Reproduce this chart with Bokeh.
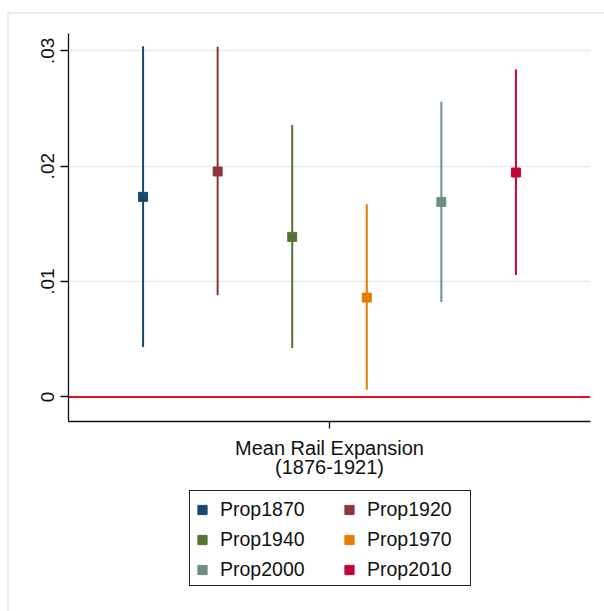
from bokeh.plotting import figure
from bokeh.layouts import column
from bokeh.models import (ColumnDataSource, Range1d, FixedTicker, CustomJSTickFormatter,
                          Span, Legend, LegendItem)
from bokeh.embed import file_html
from bokeh.resources import INLINE

# ---- data ----
series = ["Prop1870", "Prop1920", "Prop1940", "Prop1970", "Prop2000", "Prop2010"]
coef = [0.01734, 0.01954, 0.01387, 0.00861, 0.01690, 0.01945]
ci_low = [0.00432, 0.00881, 0.00423, 0.00062, 0.00823, 0.01057]
ci_high = [0.03040, 0.03035, 0.02356, 0.01670, 0.02558, 0.02839]
colors = ["#1a476f", "#90353b", "#55752f", "#e37e00", "#6e8e84", "#c10534"]
yticks = [0, 0.01, 0.02, 0.03]
ytick_labels = ["0", ".01", ".02", ".03"]
xticks = [0]
xtick_labels = ["Mean Rail Expansion\n(1876-1921)"]

FONT = "Liberation Sans"
TOP_H = 485          # height of the chart part; legend strip below it
LEG_H = 611 - TOP_H

n = len(series)
xpos = [i - (n - 1) / 2 for i in range(n)]


def bar(x, y, w, h, c):
    return (f"linear-gradient({c},{c})", f"{x}px {y}px", f"{w}px {h}px")


def css(deco):
    return {
        "background-color": "white",
        "background-image": ", ".join(d[0] for d in deco),
        "background-position": ", ".join(d[1] for d in deco),
        "background-size": ", ".join(d[2] for d in deco),
        "background-repeat": "no-repeat",
    }


FAINT = "#e6eef0"
DARK = "#222222"
# outer graph-region border (top + left), legend box
styles1 = css([bar(7, 12, 600, 2, FAINT), bar(7, 12, 2, TOP_H, FAINT)])
ly = 490 - TOP_H
styles2 = css([bar(7, 0, 2, LEG_H, FAINT),
               bar(189, ly, 282, 1, DARK), bar(189, ly + 95, 282, 1, DARK),
               bar(189, ly, 1, 96, DARK), bar(470, ly, 1, 96, DARK)])

p = figure(width=604, height=TOP_H, output_backend="svg", toolbar_location=None,
           x_range=Range1d(-n / 2 - 0.5, n / 2 + 0.5), y_range=Range1d(-0.00213, 0.0315),
           min_border_left=68, min_border_right=14, min_border_top=33,
           min_border_bottom=TOP_H - 421, styles=styles1)
p.outline_line_color = None
p.background_fill_color = "white"
p.border_fill_color = None

# zero line
p.add_layout(Span(location=0, dimension="width", line_color="#e3121f", line_width=2, level="underlay"))

src = ColumnDataSource(dict(x=xpos, coef=coef, lo=ci_low, hi=ci_high, color=colors, name=series))
p.segment(x0="x", y0="lo", x1="x", y1="hi", source=src, line_color="color", line_width=2)
p.scatter(x="x", y="coef", source=src, marker="square", size=9,
          fill_color="color", line_color="color", line_width=1)

FMT = "const i = tk.findIndex(t => Math.abs(t - tick) < 1e-9); return i >= 0 ? lb[i] : '';"

# axes
p.yaxis.ticker = FixedTicker(ticks=yticks)
p.yaxis.formatter = CustomJSTickFormatter(args=dict(tk=yticks, lb=ytick_labels), code=FMT)
p.yaxis.major_label_orientation = "vertical"
p.yaxis.major_label_text_font = FONT
p.yaxis.major_label_text_font_size = "19px"
p.yaxis.major_label_text_color = "#111111"
p.yaxis.major_label_standoff = 6
p.yaxis.major_tick_out = 8
p.yaxis.major_tick_in = 0
p.yaxis.minor_tick_line_color = None
p.yaxis.axis_line_color = "#111111"
p.yaxis.axis_line_width = 1.3
p.yaxis.major_tick_line_color = "#111111"
p.yaxis.major_tick_line_width = 1.3

p.xaxis.ticker = FixedTicker(ticks=xticks)
p.xaxis.formatter = CustomJSTickFormatter(args=dict(tk=xticks, lb=xtick_labels), code=FMT)
p.xaxis.major_label_text_font = FONT
p.xaxis.major_label_text_font_size = "20px"
p.xaxis.major_label_text_color = "#111111"
p.xaxis.major_label_text_line_height = 0.9
p.xaxis.major_label_standoff = 8
p.xaxis.major_tick_out = 7
p.xaxis.major_tick_in = 0
p.xaxis.minor_tick_line_color = None
p.xaxis.axis_line_color = "#111111"
p.xaxis.axis_line_width = 1.3
p.xaxis.major_tick_line_color = "#111111"
p.xaxis.major_tick_line_width = 1.3

p.xgrid.grid_line_color = None
p.ygrid.ticker = FixedTicker(ticks=yticks)
p.ygrid.grid_line_color = "#e4eef0"
p.ygrid.grid_line_width = 1.5

# ---- legend strip (a second, axis-less figure whose ranges keep its points out of view) ----
q = figure(width=604, height=LEG_H, output_backend="svg", toolbar_location=None,
           x_axis_type=None, y_axis_type=None, x_range=Range1d(100, 101), y_range=Range1d(100, 101),
           min_border_left=0, min_border_right=0, min_border_top=0, min_border_bottom=0,
           styles=styles2)
q.outline_line_color = None
q.background_fill_color = None
q.border_fill_color = None

items = []
for i in range(n):
    r = q.scatter(x=[xpos[i]], y=[coef[i]], marker="square", size=9,
                  fill_color=colors[i], line_color=colors[i], line_width=1)
    items.append(LegendItem(label=series[i], renderers=[r]))

legend = Legend(items=items, location=(119, 30), orientation="horizontal", ncols=2,
                padding=0, margin=0, spacing=7, glyph_width=30, glyph_height=23,
                label_height=20, label_width=107, label_standoff=3,
                label_text_font=FONT, label_text_font_size="19.5px", label_text_color="#111111",
                border_line_color=None, background_fill_color=None)
q.add_layout(legend)

layout = column(p, q, spacing=0)
open("out.html", "w").write(file_html(layout, INLINE))
